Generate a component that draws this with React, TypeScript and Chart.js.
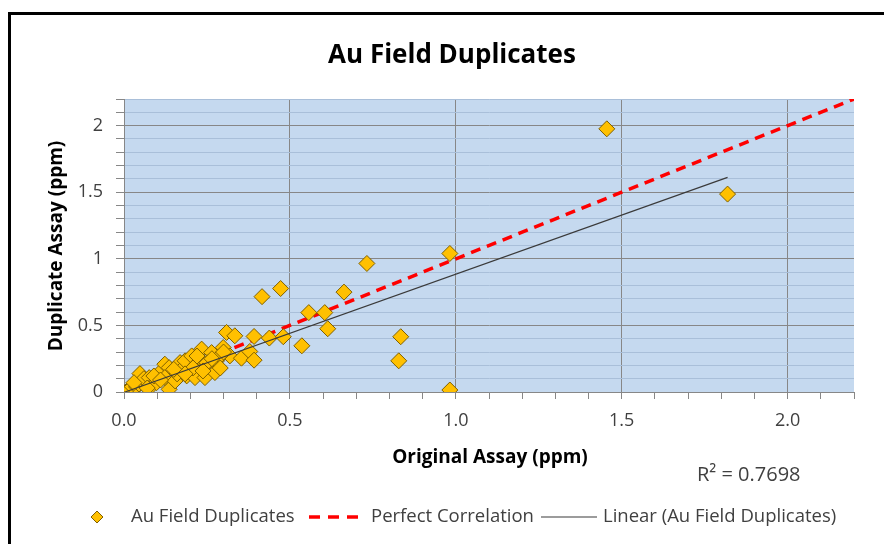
import React, { useEffect, useRef } from 'react';
import { Chart, registerables } from 'chart.js';

Chart.register(...registerables);

// ---- Data ----
const originalAssay = [
  0.005, 0.01, 0.018, 0.025, 0.038, 0.045, 0.053, 0.048, 0.06, 0.076,
  0.083, 0.098, 0.108, 0.136, 0.123, 0.136, 0.123, 0.154, 0.169, 0.169,
  0.189, 0.184, 0.204, 0.214, 0.219, 0.234, 0.244, 0.249, 0.264, 0.274,
  0.279, 0.299, 0.309, 0.319, 0.334, 0.354, 0.379, 0.392, 0.392, 0.416,
  0.438, 0.472, 0.48, 0.536, 0.557, 0.605, 0.614, 0.663, 0.732, 0.828,
  0.834, 0.982, 0.982, 1.455, 1.819, 0.208, 0.25, 0.22, 0.289, 0.16,
  0.184, 0.238, 0.265, 0.3, 0.09, 0.03, 0.07, 0.11, 0.15, 0.29,
];
const duplicateAssay = [
  0.0, 0.01, 0.02, 0.04, 0.038, 0.06, 0.083, 0.138, 0.1, 0.108,
  0.045, 0.07, 0.146, 0.02, 0.209, 0.183, 0.108, 0.083, 0.221, 0.158,
  0.121, 0.234, 0.271, 0.108, 0.209, 0.322, 0.108, 0.209, 0.296, 0.146,
  0.234, 0.334, 0.447, 0.271, 0.422, 0.254, 0.304, 0.417, 0.239, 0.716,
  0.405, 0.777, 0.415, 0.347, 0.596, 0.596, 0.475, 0.75, 0.965, 0.234,
  0.415, 1.04, 0.015, 1.976, 1.486, 0.181, 0.22, 0.27, 0.27, 0.136,
  0.136, 0.158, 0.25, 0.3, 0.12, 0.07, 0.03, 0.09, 0.17, 0.18,
];
const perfectX = [0, 2.2];
const perfectY = [0, 2.2];
const trendX = [0.003, 1.819];
const trendY = [0.0, 1.612];
const xTickLabels = ['0.0', '0.5', '1.0', '1.5', '2.0'];
const yTickLabels = ['0', '0.5', '1', '1.5', '2'];
const titleText = 'Au Field Duplicates';
const xTitle = 'Original Assay (ppm)';
const yTitle = 'Duplicate Assay (ppm)';
const rSquaredText = 'R² = 0.7698';
const seriesNames = ['Au Field Duplicates', 'Perfect Correlation', 'Linear (Au Field Duplicates)'];

const FONT = '"Open Sans", "DejaVu Sans", sans-serif';
const GRID_MAJOR = '#878787';
const GRID_MINOR = '#a9bfd9';
const PLOT_BG = '#c5d9ef';
const POINT_FILL = '#FFC000';
const POINT_BORDER = '#7F6000';
const TEXT = '#404040';

const isMajor = (v: number) => Math.abs(v * 2 - Math.round(v * 2)) < 1e-6;

const decor = {
  id: 'decor',
  beforeDraw(chart: any) {
    const { ctx, chartArea } = chart;
    ctx.save();
    ctx.fillStyle = '#ffffff';
    ctx.fillRect(0, 0, chart.width, chart.height);
    ctx.fillStyle = PLOT_BG;
    ctx.fillRect(chartArea.left, chartArea.top, chartArea.right - chartArea.left, chartArea.bottom - chartArea.top);
    ctx.restore();
  },
  afterDraw(chart: any) {
    const { ctx } = chart;
    ctx.save();
    // frame
    ctx.fillStyle = '#000000';
    ctx.fillRect(8, 12, 3, chart.height - 12);
    ctx.fillRect(8, 12, chart.width - 8, 3);

    // title
    ctx.fillStyle = '#000000';
    ctx.font = `bold 26px ${FONT}`;
    ctx.textAlign = 'center';
    ctx.textBaseline = 'alphabetic';
    ctx.fillText(titleText, 452, 63);

    // axis titles
    ctx.font = `bold 19px ${FONT}`;
    ctx.fillText(xTitle, 490, 463);
    ctx.save();
    ctx.translate(57, 246);
    ctx.rotate(-Math.PI / 2);
    ctx.textBaseline = 'middle';
    ctx.fillText(yTitle, 0, 0);
    ctx.restore();

    // R squared
    ctx.fillStyle = TEXT;
    ctx.font = `20px ${FONT}`;
    ctx.textAlign = 'left';
    ctx.textBaseline = 'alphabetic';
    ctx.fillText(rSquaredText, 697, 481);

    // legend
    const ly = 517;
    ctx.font = `18.5px ${FONT}`;
    ctx.textBaseline = 'middle';
    // diamond marker
    ctx.beginPath();
    ctx.moveTo(97 - 6, ly);
    ctx.lineTo(97, ly - 6);
    ctx.lineTo(97 + 6, ly);
    ctx.lineTo(97, ly + 6);
    ctx.closePath();
    ctx.fillStyle = POINT_FILL;
    ctx.fill();
    ctx.strokeStyle = POINT_BORDER;
    ctx.lineWidth = 1;
    ctx.stroke();
    ctx.fillStyle = TEXT;
    ctx.fillText(seriesNames[0], 131, ly);
    // red dashed
    ctx.beginPath();
    ctx.setLineDash([11, 8]);
    ctx.strokeStyle = '#FF0000';
    ctx.lineWidth = 3.5;
    ctx.moveTo(309, ly);
    ctx.lineTo(361, ly);
    ctx.stroke();
    ctx.setLineDash([]);
    ctx.fillText(seriesNames[1], 371, ly);
    // black line
    ctx.beginPath();
    ctx.strokeStyle = '#3a3a3a';
    ctx.lineWidth = 1.2;
    ctx.moveTo(541, ly);
    ctx.lineTo(597, ly);
    ctx.stroke();
    ctx.fillText(seriesNames[2], 603, ly);
    ctx.restore();
  },
};

export default function App() {
  const ref = useRef<HTMLCanvasElement | null>(null);
  useEffect(() => {
    const canvas = ref.current;
    if (!canvas) return;
    const chart = new Chart(canvas, {
      type: 'scatter',
      data: {
        datasets: [
          {
            label: seriesNames[2],
            data: trendX.map((x, i) => ({ x, y: trendY[i] })),
            showLine: true,
            borderColor: '#3a3a3a',
            borderWidth: 1.2,
            pointRadius: 0,
            order: 0,
          },
          {
            label: seriesNames[0],
            data: originalAssay.map((x, i) => ({ x, y: duplicateAssay[i] })),
            pointStyle: 'rectRot',
            pointRadius: 8,
            backgroundColor: POINT_FILL,
            borderColor: POINT_BORDER,
            borderWidth: 1,
            order: 1,
          },
          {
            label: seriesNames[1],
            data: perfectX.map((x, i) => ({ x, y: perfectY[i] })),
            showLine: true,
            borderColor: '#FF0000',
            borderWidth: 3.5,
            borderDash: [10, 7],
            pointRadius: 0,
            order: 2,
          },
        ],
      },
      options: {
        responsive: false,
        animation: false,
        devicePixelRatio: 1,
        layout: { padding: { left: 0, right: 30, top: 99, bottom: 0 } },
        plugins: {
          legend: { display: false },
          title: { display: false },
          tooltip: { enabled: false },
        },
        scales: {
          x: {
            type: 'linear',
            position: 'bottom',
            min: 0,
            max: 2.2,
            afterFit: (s: any) => { s.height = 152; },
            ticks: {
              stepSize: 0.1,
              autoSkip: false,
              maxRotation: 0,
              padding: 11,
              color: TEXT,
              font: { family: FONT, size: 18 },
              callback: (v: any) => {
                const n = Number(v);
                if (!isMajor(n)) return '';
                return xTickLabels[Math.round(n * 2)] ?? '';
              },
            },
            grid: {
              color: (c: any) => (c.tick && isMajor(c.tick.value) && c.tick.value > 0 ? GRID_MAJOR : 'rgba(0,0,0,0)'),
              tickColor: GRID_MAJOR,
              tickLength: 7,
              lineWidth: 1,
            },
            border: { color: GRID_MAJOR, width: 1 },
          },
          y: {
            type: 'linear',
            min: 0,
            max: 2.2,
            afterFit: (s: any) => { s.width = 124; },
            ticks: {
              stepSize: 0.1,
              autoSkip: false,
              padding: 13,
              color: TEXT,
              font: { family: FONT, size: 18 },
              callback: (v: any) => {
                const n = Number(v);
                if (!isMajor(n)) return '';
                return yTickLabels[Math.round(n * 2)] ?? '';
              },
            },
            grid: {
              color: (c: any) => (c.tick && isMajor(c.tick.value) ? GRID_MAJOR : GRID_MINOR),
              tickColor: GRID_MAJOR,
              tickLength: 8,
              lineWidth: 1,
            },
            border: { color: GRID_MAJOR, width: 1 },
          },
        },
      },
      plugins: [decor],
    } as any);
    return () => chart.destroy();
  }, []);

  return (
    <div style={{ position: 'fixed', left: 0, top: 0, width: 884, height: 544, background: '#fff' }}>
      <canvas ref={ref} width={884} height={544} style={{ width: 884, height: 544, display: 'block' }} />
    </div>
  );
}
